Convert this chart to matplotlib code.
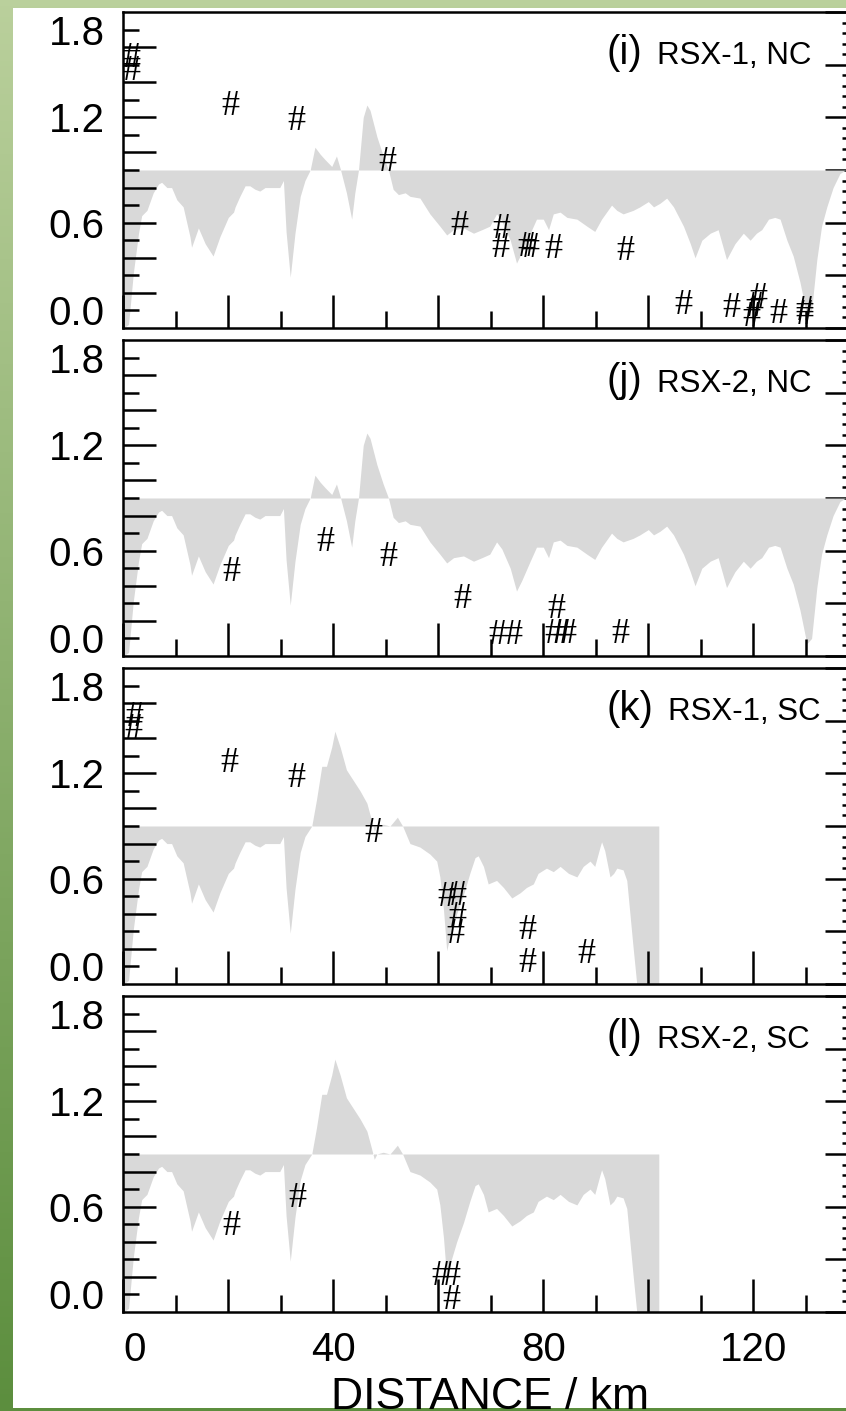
import numpy as np
import matplotlib
matplotlib.use('Agg')
from matplotlib import pyplot as plt
from matplotlib.patches import Rectangle
from matplotlib.ticker import MultipleLocator

# ---- data ----
# shared start of the gray profile (0-35 km)
common_x = [0, 1.0, 1.9, 2.9, 3.5, 4.5, 5.7, 6.7, 7.3, 8.3, 9.2, 10.2, 11.4, 12.7, 13.0,
            14.3, 15.6, 17.1, 18.4, 20.0, 21.0, 21.3, 22.2, 23.2, 24.1, 25.1, 26.0, 27.0,
            28.6, 29.8, 30.5, 31.0, 31.8, 32.7, 33.7, 34.6]
common_y = [0.0, 0.02, 0.31, 0.54, 0.64, 0.67, 0.77, 0.82, 0.83, 0.80, 0.80, 0.73, 0.69, 0.52, 0.46,
            0.57, 0.48, 0.41, 0.52, 0.63, 0.66, 0.69, 0.75, 0.81, 0.81, 0.79, 0.78, 0.80,
            0.80, 0.80, 0.84, 0.55, 0.29, 0.54, 0.75, 0.84]

nc_tail_x = [35.6, 36.5, 37.5, 38.4, 39.7, 40.6, 41.3, 42.5, 43.5, 44.1, 44.8, 45.7, 46.4, 47.0,
             48.3, 49.5, 50.5, 51.4, 52.4, 53.7, 54.6, 56.5, 58.4, 60.3, 61.6, 62.9, 64.8, 66.7,
             68.3, 69.8, 71.1, 72.1, 73.7, 74.9, 75.9, 77.5, 78.7, 80.0, 81.0, 81.9, 83.2, 84.5,
             86.4, 88.3, 89.8, 91.1, 93.0, 94.0, 95.2, 97.1, 98.4, 100.0, 101.0, 102.2, 103.5,
             104.8, 106.7, 108.0, 108.9, 110.2, 111.8, 113.3, 114.9, 116.5, 118.1, 119.4, 120.6,
             121.6, 122.9, 124.1, 125.1, 126.4, 127.6, 128.9, 130.2, 131.1, 132.1, 133.0, 134.0,
             135.2, 136.5, 137.6, 140.0]
nc_tail_y = [0.90, 1.03, 0.99, 0.96, 0.92, 0.98, 0.91, 0.77, 0.62, 0.77, 0.90, 1.20, 1.27, 1.24,
             1.09, 0.98, 0.90, 0.79, 0.76, 0.77, 0.75, 0.74, 0.65, 0.58, 0.53, 0.56, 0.57, 0.54,
             0.56, 0.58, 0.65, 0.61, 0.50, 0.37, 0.43, 0.54, 0.62, 0.62, 0.56, 0.65, 0.66, 0.63,
             0.62, 0.58, 0.55, 0.62, 0.70, 0.67, 0.65, 0.67, 0.69, 0.72, 0.69, 0.71, 0.74,
             0.69, 0.58, 0.48, 0.40, 0.50, 0.54, 0.56, 0.39, 0.48, 0.54, 0.50, 0.54,
             0.56, 0.62, 0.63, 0.62, 0.50, 0.41, 0.26, 0.07, 0.10, 0.39, 0.58, 0.69,
             0.80, 0.88, 0.90, 0.95]

sc_tail_x = [35.9, 36.8, 37.8, 38.7, 39.7, 40.3, 41.3, 42.5, 43.8, 45.1, 46.4, 47.3, 47.8, 48.3,
             49.5, 50.8, 52.2, 53.2, 54.6, 56.5, 58.4, 59.7, 60.3, 61.0, 61.6, 62.2, 63.5, 64.8,
             66.0, 67.0, 67.6, 68.6, 69.5, 71.1, 72.4, 74.0, 75.6, 76.8, 78.1, 79.0, 80.6, 81.9,
             83.2, 84.8, 86.4, 87.6, 88.9, 89.8, 90.8, 91.1, 91.7, 92.7, 93.4, 94.0, 95.2, 95.9,
             96.5, 97.1, 97.8, 102.0]
sc_tail_y = [0.90, 1.05, 1.24, 1.24, 1.35, 1.44, 1.35, 1.22, 1.16, 1.10, 1.03, 0.93, 0.87, 0.90,
             0.91, 0.90, 0.95, 0.90, 0.80, 0.78, 0.74, 0.70, 0.61, 0.42, 0.19, 0.27, 0.40, 0.51,
             0.63, 0.72, 0.73, 0.67, 0.57, 0.59, 0.55, 0.49, 0.52, 0.55, 0.57, 0.63, 0.66, 0.64,
             0.67, 0.63, 0.61, 0.67, 0.70, 0.67, 0.78, 0.81, 0.76, 0.61, 0.63, 0.66, 0.65, 0.59,
             0.40, 0.21, 0.0, 0.0]

baseline = 0.9

# '#' symbols per panel
i_x = [1.6, 1.6, 20.3, 33.0, 50.3, 64.0, 72.1, 71.9, 76.8, 77.5, 81.9, 95.7, 106.7, 115.9,
       121.0, 120.3, 119.7, 124.8, 129.8, 129.8]
i_y = [1.535, 1.46, 1.26, 1.175, 0.94, 0.58, 0.56, 0.455, 0.46, 0.455, 0.445, 0.435, 0.13, 0.11,
       0.17, 0.115, 0.057, 0.076, 0.094, 0.07]
j_x = [20.6, 38.4, 50.5, 64.5, 71.3, 74.3, 82.4, 81.9, 83.5, 84.5, 94.6]
j_y = [0.476, 0.647, 0.56, 0.32, 0.114, 0.114, 0.267, 0.124, 0.124, 0.124, 0.12]
k_x = [2.2, 1.9, 20.2, 33.0, 47.6, 61.6, 63.6, 63.7, 63.3, 77.0, 77.0, 88.3]
k_y = [1.52, 1.45, 1.257, 1.17, 0.86, 0.49, 0.50, 0.38, 0.28, 0.305, 0.114, 0.167]
l_x = [20.5, 33.2, 60.4, 62.5, 62.4]
l_y = [0.486, 0.648, 0.20, 0.20, 0.067]

tags = ['(i)', '(j)', '(k)', '(l)']
names = ['RSX-1, NC', 'RSX-2, NC', 'RSX-1, SC', 'RSX-2, SC']

x_major = [0, 20, 40, 60, 80, 100, 120, 140]
x_major_labels = ['0', '', '40', '', '80', '', '120', '']
x_minor = [10, 30, 50, 70, 90, 110, 130]
y_long = [0.2, 0.4, 0.6, 0.8, 1.0, 1.2, 1.4, 1.6]
y_long_labels = ['', '', '0.6', '', '', '1.2', '', '']
y_short = [0.1, 0.3, 0.5, 0.7, 0.9, 1.1, 1.3, 1.5, 1.7]
y_short_labels = ['0.0', '', '', '', '', '', '', '', '1.8']

nc_x = common_x + nc_tail_x
nc_y = common_y + nc_tail_y
sc_x = common_x + sc_tail_x
sc_y = common_y + sc_tail_y
profiles = [(nc_x, nc_y), (nc_x, nc_y), (sc_x, sc_y), (sc_x, sc_y)]
hashes = [(i_x, i_y), (j_x, j_y), (k_x, k_y), (l_x, l_y)]

# ---- figure ----
W, H = 846, 1411
fig = plt.figure(figsize=(W / 100, H / 100), dpi=100)
plt.rcParams['font.family'] = ['Liberation Sans', 'DejaVu Sans']

# green frame
bg = fig.add_axes([0, 0, 1, 1], zorder=-10)
top_c = np.array([186, 208, 156]) / 255
bot_c = np.array([92, 142, 62]) / 255
t = np.linspace(0, 1, 256)[:, None]
grad = (top_c[None, :] * (1 - t) + bot_c[None, :] * t)[:, None, :]
bg.imshow(grad, aspect='auto', extent=[0, 1, 0, 1])
bg.add_patch(Rectangle((13 / W, 3 / H), (W - 13) / W, (1408 - 8) / H,
                       transform=bg.transAxes, color='white', lw=0))
bg.set_xlim(0, 1)
bg.set_ylim(0, 1)
bg.axis('off')

left_px = 123.3
right_px = 858.3
panel_h = 316
tops = [12, 340, 668, 996]

lw = 1.8
for n in range(4):
    top = tops[n]
    ax = fig.add_axes([left_px / W, 1 - (top + panel_h) / H,
                       (right_px - left_px) / W, panel_h / H])
    px, py = profiles[n]
    ax.fill_between(px, py, baseline, color='#d9d9d9', lw=0)
    hx, hy = hashes[n]
    for x, y in zip(hx, hy):
        ax.text(x, y, '#', fontsize=26, family='Liberation Serif',
                ha='center', va='center', zorder=5)

    ax.set_xlim(0, 140)
    ax.set_ylim(0, 1.8)
    for s in ax.spines.values():
        s.set_linewidth(lw)

    ax.set_xticks(x_major, labels=x_major_labels)
    ax.set_xticks(x_minor, minor=True)
    ax.tick_params(axis='x', which='major', direction='in', length=23.7, width=lw,
                   top=False, labelsize=29, pad=14)
    ax.tick_params(axis='x', which='minor', direction='in', length=12.5, width=lw, top=False)
    if n < 3:
        ax.tick_params(axis='x', labelbottom=False)
    else:
        ax.get_xticklabels()[0].set_ha('left')

    ax.set_yticks(y_long, labels=y_long_labels)
    ax.set_yticks(y_short, labels=y_short_labels, minor=True)
    ax.tick_params(axis='y', which='major', direction='in', length=23.7, width=lw,
                   right=False, labelsize=29, pad=13.5)
    ax.tick_params(axis='y', which='minor', direction='in', length=11.5, width=lw,
                   right=False, labelsize=29, pad=13.5)

    sec = ax.secondary_yaxis('right')
    sec.set_yticks([0, 0.3, 0.6, 0.9, 1.2, 1.5, 1.8])
    sec.yaxis.set_minor_locator(MultipleLocator(0.06))
    sec.tick_params(which='major', direction='in', length=23.7, width=lw, labelright=False)
    sec.tick_params(which='minor', direction='in', length=11.5, width=lw)
    sec.spines['right'].set_linewidth(lw)

    tag = ax.text(0.658, 0.835, tags[n], transform=ax.transAxes, fontsize=29,
                  ha='left', va='baseline', zorder=6)
    ax.annotate(names[n], xy=(1, 0.835), xycoords=(tag, ax.transAxes),
                xytext=(10, 0), textcoords='offset points', fontsize=22.5,
                ha='left', va='baseline', zorder=6)

fig.text(490 / W, 2 / H, 'DISTANCE / km', fontsize=32, ha='center', va='baseline')

plt.savefig('out.png', dpi=100)
